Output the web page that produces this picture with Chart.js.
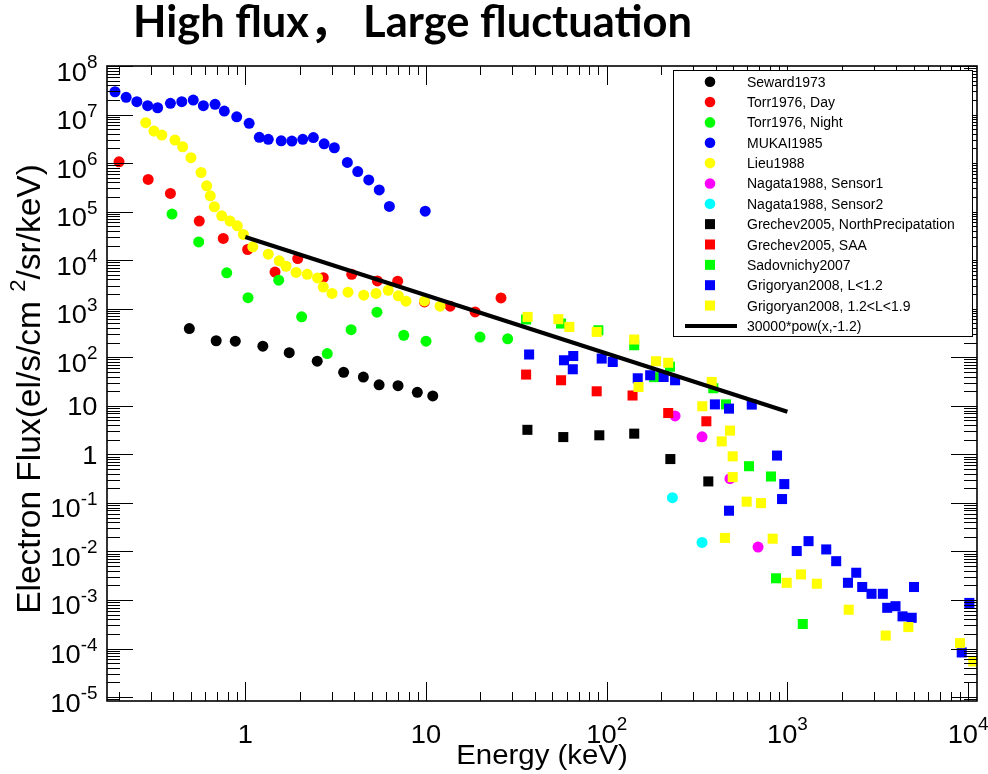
<!DOCTYPE html>
<html>
<head>
<meta charset="utf-8">
<script src="https://cdn.jsdelivr.net/npm/chart.js@4.4.1/dist/chart.umd.min.js"></script>
<style>
  html, body { margin: 0; padding: 0; background: #fff; }
  #chart { display: block; }
</style>
</head>
<body>
<canvas id="chart" width="988" height="774"></canvas>
<script>
// Energy (keV) / flux pairs
const sewardE = [0.49, 0.69, 0.88, 1.25, 1.75, 2.5, 3.5, 4.5, 5.5, 7.0, 8.95, 10.9];
const sewardF = [390, 219, 214, 169, 124, 83, 49, 39, 27, 26, 19, 16];

const torrDayE = [0.20, 0.29, 0.385, 0.556, 0.755, 1.03, 1.46, 1.95, 2.70, 3.88, 5.38, 6.97, 9.8, 13.6, 18.7, 26.0];
const torrDayF = [1.06e6, 4.6e5, 2.37e5, 6.4e4, 2.8e4, 1.66e4, 5.7e3, 1.08e4, 4.36e3, 5.1e3, 3.74e3, 3.7e3, 1.38e3, 1.13e3, 860, 1670];

const torrNightE = [0.393, 0.552, 0.789, 1.035, 1.53, 2.05, 2.84, 3.85, 5.35, 7.53, 10.0, 19.9, 28.3];
const torrNightF = [8.9e4, 2.38e4, 5.5e3, 1.69e3, 3.87e3, 680, 119, 370, 850, 284, 214, 260, 240];

const mukaiE = [0.19, 0.219, 0.251, 0.288, 0.327, 0.385, 0.445, 0.515, 0.586, 0.68, 0.765, 0.896, 1.05, 1.195,
  1.34, 1.58, 1.81, 2.08, 2.38, 2.73, 3.11, 3.67, 4.19, 4.82, 5.51, 6.27, 9.9];
const mukaiF = [2.95e7, 2.26e7, 1.84e7, 1.52e7, 1.38e7, 1.70e7, 1.84e7, 1.99e7, 1.52e7, 1.62e7, 1.18e7, 9.0e6, 6.6e6, 3.39e6,
  3.08e6, 2.88e6, 2.84e6, 3.08e6, 3.36e6, 2.49e6, 2.07e6, 1.03e6, 6.7e5, 4.5e5, 2.8e5, 1.28e5, 1.02e5];

const lieuE = [0.281, 0.312, 0.345, 0.408, 0.45, 0.50, 0.569, 0.611, 0.64, 0.674, 0.74, 0.823, 0.903, 0.975, 1.10, 1.34,
  1.54, 1.68, 1.91, 2.20, 2.51, 2.70, 3.02, 3.70, 4.52, 5.29, 6.18, 7.03, 7.75, 9.8, 11.96];
const lieuF = [6.8e6, 4.57e6, 3.78e6, 2.98e6, 2.17e6, 1.29e6, 6.4e5, 3.4e5, 2.12e5, 1.26e5, 8.2e4, 6.4e4, 5.1e4, 3.4e4, 1.88e4, 1.33e4,
  9.7e3, 7.5e3, 5.6e3, 5.1e3, 4.3e3, 2.8e3, 2.06e3, 2.19e3, 1.9e3, 2.06e3, 2.4e3, 1.84e3, 1.43e3, 1.45e3, 1.13e3];

const nagata1E = [239, 337, 481, 688];
const nagata1F = [6.2, 2.3, 0.315, 0.0123];

const nagata2E = [231, 337];
const nagata2F = [0.128, 0.0153];

const grechevNorthE = [36.4, 57.5, 91, 142, 225, 365];
const grechevNorthF = [3.2, 2.27, 2.47, 2.67, 0.80, 0.277];

const grechevSaaE = [35.8, 55.9, 88, 139, 219, 356];
const grechevSaaF = [44, 33.6, 19.9, 16.3, 7.1, 4.8];

const sadovE = [35.8, 55.9, 89.9, 142, 183, 224, 389, 457, 613, 811, 865, 1216];
const sadovF = [600, 495, 360, 177, 39, 64, 23, 10.7, 0.57, 0.35, 2.8e-3, 3.2e-4];

const grig1E = [37.2, 58, 65.3, 64.9, 93.8, 108, 148.5, 174, 206.5, 239, 397, 475, 635, 876, 961, 934, 475, 1126,
  1309, 1640, 1862, 2404, 2163, 2594, 2921, 3373, 5018, 3567, 3965, 4336, 4875, 10160, 9220];
const grig1F = [114, 86.7, 106, 56.6, 94, 80, 36.9, 42.6, 39.3, 33.6, 10.7, 8.75, 10.6, 0.944, 0.244, 0.12, 0.069, 0.0102,
  0.0163, 0.011, 6.3e-3, 3.64e-3, 2.26e-3, 1.85e-3, 1.34e-3, 1.34e-3, 1.85e-3, 6.9e-4, 7.45e-4, 4.6e-4, 4.3e-4, 8.7e-4, 8.3e-5];

const grig2E = [36.5, 54, 62.1, 88, 142, 187.5, 219, 150, 381, 338, 481, 433, 498, 498, 595, 714, 451, 829, 991,
  1189, 1455, 2184, 3499, 4669, 9020, 10690];
const grig2F = [678, 608, 422, 333, 232, 82.8, 77, 24.4, 31, 9.8, 3.08, 1.85, 0.91, 0.34, 0.106, 0.099, 0.019, 0.0183, 2.26e-3,
  3.36e-3, 2.16e-3, 6.3e-4, 1.85e-4, 2.77e-4, 1.29e-4, 5.4e-5];

// 30000*pow(x,-1.2) drawn between 1 and 1000 keV
const fitE = [1, 1000];
const fitF = [30000, 7.54];

const xTickValues = [1, 10, 100, 1000, 10000];
const xTickLabels = [['1', ''], ['10', ''], ['10', '2'], ['10', '3'], ['10', '4']];
const yTickValues = [1e8, 1e7, 1e6, 1e5, 1e4, 1e3, 1e2, 10, 1, 1e-1, 1e-2, 1e-3, 1e-4, 1e-5];
const yTickLabels = [['10', '8'], ['10', '7'], ['10', '6'], ['10', '5'], ['10', '4'], ['10', '3'], ['10', '2'],
  ['10', ''], ['1', ''], ['10', '-1'], ['10', '-2'], ['10', '-3'], ['10', '-4'], ['10', '-5']];

const series = [
  { label: 'Seward1973', e: sewardE, f: sewardF, color: '#000000', style: 'circle' },
  { label: 'Torr1976, Day', e: torrDayE, f: torrDayF, color: '#ff0000', style: 'circle' },
  { label: 'Torr1976, Night', e: torrNightE, f: torrNightF, color: '#00ff00', style: 'circle' },
  { label: 'MUKAI1985', e: mukaiE, f: mukaiF, color: '#0000ff', style: 'circle' },
  { label: 'Lieu1988', e: lieuE, f: lieuF, color: '#ffff00', style: 'circle' },
  { label: 'Nagata1988, Sensor1', e: nagata1E, f: nagata1F, color: '#ff00ff', style: 'circle' },
  { label: 'Nagata1988, Sensor2', e: nagata2E, f: nagata2F, color: '#00ffff', style: 'circle' },
  { label: 'Grechev2005, NorthPrecipatation', e: grechevNorthE, f: grechevNorthF, color: '#000000', style: 'rect' },
  { label: 'Grechev2005, SAA', e: grechevSaaE, f: grechevSaaF, color: '#ff0000', style: 'rect' },
  { label: 'Sadovnichy2007', e: sadovE, f: sadovF, color: '#00ff00', style: 'rect' },
  { label: 'Grigoryan2008, L<1.2', e: grig1E, f: grig1F, color: '#0000ff', style: 'rect' },
  { label: 'Grigoryan2008, 1.2<L<1.9', e: grig2E, f: grig2F, color: '#ffff00', style: 'rect' },
  { label: '30000*pow(x,-1.2)', e: fitE, f: fitF, color: '#000000', style: 'line' },
];

const SX = 1.05; // the figure's text is slightly wider than plain Arial
const LABEL_FONT = '"Liberation Sans", Arial, sans-serif';

function toPoints(xs, ys) {
  return xs.map((x, i) => ({ x, y: ys[i] }));
}

function wideText(ctx, text, x, y, align, sx) {
  const w = ctx.measureText(text).width * sx;
  let left = x;
  if (align === 'right') left = x - w;
  else if (align === 'center') left = x - w / 2;
  ctx.save();
  ctx.translate(left, y);
  ctx.scale(sx, 1);
  ctx.textAlign = 'left';
  ctx.fillText(text, 0, 0);
  ctx.restore();
  return w;
}

function powerLabel(ctx, parts, x, y, align) {
  const [base, exp] = parts;
  ctx.font = '26px ' + LABEL_FONT;
  const wb = ctx.measureText(base).width * SX;
  ctx.font = '18px ' + LABEL_FONT;
  const we = exp ? ctx.measureText(exp).width * SX : 0;
  const total = wb + we;
  const left = align === 'right' ? x - total : x - total / 2;
  ctx.font = '26px ' + LABEL_FONT;
  wideText(ctx, base, left, y, 'left', SX);
  if (exp) {
    ctx.font = '18px ' + LABEL_FONT;
    wideText(ctx, exp, left + wb, y - 12.5, 'left', SX);
  }
}

function seg(ctx, x1, y1, x2, y2) {
  ctx.beginPath();
  ctx.moveTo(x1, y1);
  ctx.lineTo(x2, y2);
  ctx.stroke();
}

const rootAxes = {
  id: 'rootAxes',
  afterDatasetsDraw(chart) {
    const { ctx, chartArea: a, scales: { x, y } } = chart;
    ctx.save();
    ctx.strokeStyle = '#000';
    ctx.lineWidth = 1;
    for (let d = -1; d <= 4; d += 1) {
      for (let m = 1; m <= 9; m += 1) {
        const v = m * Math.pow(10, d);
        if (v < x.min || v > x.max) continue;
        const px = Math.round(x.getPixelForValue(v)) + 0.5;
        const len = m === 1 ? 19 : 9;
        seg(ctx, px, a.bottom, px, a.bottom - len);
        seg(ctx, px, a.top, px, a.top + len);
      }
    }
    for (let d = -6; d <= 8; d += 1) {
      for (let m = 1; m <= 9; m += 1) {
        const v = m * Math.pow(10, d);
        if (v < y.min || v > y.max) continue;
        const py = Math.round(y.getPixelForValue(v)) + 0.5;
        const len = m === 1 ? 26 : 13;
        seg(ctx, a.left, py, a.left + len, py);
        seg(ctx, a.right, py, a.right - len, py);
      }
    }
    ctx.lineWidth = 1.6;
    ctx.strokeRect(a.left, a.top, a.right - a.left, a.bottom - a.top);
    ctx.restore();
  },
  afterDraw(chart) {
    const { ctx, chartArea: a, scales: { x, y } } = chart;
    ctx.save();
    ctx.fillStyle = '#000';
    ctx.textBaseline = 'alphabetic';

    xTickValues.forEach((v, i) => {
      powerLabel(ctx, xTickLabels[i], x.getPixelForValue(v), 742.5, 'center');
    });
    yTickValues.forEach((v, i) => {
      const py = y.getPixelForValue(v);
      const parts = yTickLabels[i];
      powerLabel(ctx, parts, 97.5, py + (parts[1] ? 14.5 : 9.5), 'right');
    });

    // axis titles
    ctx.font = '28px ' + LABEL_FONT;
    wideText(ctx, 'Energy (keV)', (a.left + a.right) / 2, 764, 'center', SX);

    ctx.save();
    ctx.translate(40, 389);
    ctx.rotate(-Math.PI / 2);
    const t1 = 'Electron Flux(el/s/cm ';
    const t2 = '2';
    const t3 = '/sr/keV)';
    ctx.font = '33.5px ' + LABEL_FONT;
    const w1 = ctx.measureText(t1).width;
    const w3 = ctx.measureText(t3).width;
    ctx.font = '22px ' + LABEL_FONT;
    const w2 = ctx.measureText(t2).width;
    let cx = -(w1 + w2 + w3) / 2;
    ctx.textAlign = 'left';
    ctx.font = '33.5px ' + LABEL_FONT;
    ctx.fillText(t1, cx, 0);
    cx += w1;
    ctx.font = '22px ' + LABEL_FONT;
    ctx.fillText(t2, cx, -15);
    cx += w2;
    ctx.font = '33.5px ' + LABEL_FONT;
    ctx.fillText(t3, cx, 0);
    ctx.restore();

    // title
    ctx.font = 'bold 43px Lato, "Noto Sans CJK SC", sans-serif';
    const title = 'High flux\uff0c Large fluctuation';
    const tw = ctx.measureText(title).width;
    wideText(ctx, title, 133, 37, 'left', 559 / tw);

    // legend box
    const lx = 673, ly = 70, lw = 299, lh = 266;
    ctx.fillStyle = '#fff';
    ctx.fillRect(lx, ly, lw, lh);
    ctx.strokeStyle = '#000';
    ctx.lineWidth = 1;
    ctx.strokeRect(lx + 0.5, ly + 0.5, lw, lh);
    chart.data.datasets.forEach((ds, i) => {
      const ry = 81.7 + i * 20.35;
      ctx.fillStyle = ds.legendColor;
      if (ds.legendStyle === 'circle') {
        ctx.beginPath();
        ctx.arc(710, ry, 5.3, 0, Math.PI * 2);
        ctx.fill();
      } else if (ds.legendStyle === 'rect') {
        ctx.fillRect(705, ry - 5, 10, 10);
      } else {
        ctx.strokeStyle = ds.legendColor;
        ctx.lineWidth = 4;
        seg(ctx, 685, ry, 737, ry);
      }
      ctx.fillStyle = '#000';
      ctx.font = '14px ' + LABEL_FONT;
      wideText(ctx, ds.label, 747, ry + 5, 'left', 1);
    });
    ctx.restore();
  },
};

const datasets = series.map((s, i) => {
  const base = {
    label: s.label,
    data: toPoints(s.e, s.f),
    order: series.length - 1 - i,
    legendColor: s.color,
    legendStyle: s.style,
  };
  if (s.style === 'line') {
    return Object.assign(base, {
      showLine: true,
      borderColor: s.color,
      borderWidth: 4,
      pointRadius: 0,
      fill: false,
    });
  }
  return Object.assign(base, {
    showLine: false,
    backgroundColor: s.color,
    borderColor: s.color,
    borderWidth: 0,
    pointStyle: s.style,
    pointRadius: s.style === 'rect' ? 7.1 : 5.5,
    pointBorderWidth: 0,
  });
});

new Chart(document.getElementById('chart'), {
  type: 'scatter',
  data: { datasets },
  options: {
    responsive: false,
    animation: false,
    events: [],
    devicePixelRatio: 1,
    layout: { padding: { left: 107, top: 66, right: 11, bottom: 73 } },
    scales: {
      x: { type: 'logarithmic', min: 0.1716, max: 11200, display: false, bounds: 'data' },
      y: { type: 'logarithmic', min: 8.3e-6, max: 1e8, display: false, bounds: 'data' },
    },
    plugins: {
      legend: { display: false },
      tooltip: { enabled: false },
      title: { display: false },
    },
  },
  plugins: [rootAxes],
});
</script>
</body>
</html>
